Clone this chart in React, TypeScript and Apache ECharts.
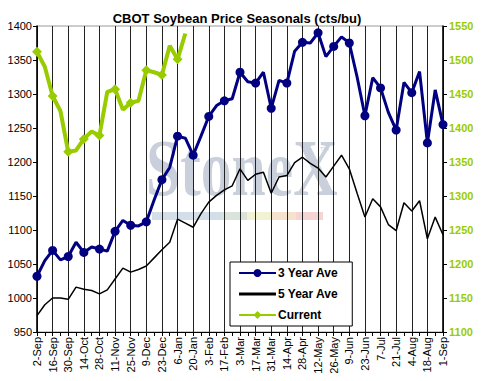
import React, { useEffect, useRef } from "react";
import * as echarts from "echarts";

const categories = [
  "2-Sep", "9-Sep", "16-Sep", "23-Sep", "30-Sep", "7-Oct", "14-Oct", "21-Oct", "28-Oct",
  "4-Nov", "11-Nov", "18-Nov", "25-Nov", "2-Dec", "9-Dec", "16-Dec", "23-Dec", "30-Dec",
  "6-Jan", "13-Jan", "20-Jan", "27-Jan", "3-Feb", "10-Feb", "17-Feb", "24-Feb",
  "3-Mar", "10-Mar", "17-Mar", "24-Mar", "31-Mar", "7-Apr", "14-Apr", "21-Apr", "28-Apr",
  "5-May", "12-May", "19-May", "26-May", "2-Jun", "9-Jun", "16-Jun", "23-Jun", "30-Jun",
  "7-Jul", "14-Jul", "21-Jul", "28-Jul", "4-Aug", "11-Aug", "18-Aug", "25-Aug", "1-Sep",
];

const threeYearAve = [
  1032, 1055, 1070, 1056, 1061, 1082, 1067, 1075, 1072, 1069, 1098, 1114, 1107, 1106,
  1112, 1144, 1174, 1192, 1238, 1235, 1210, 1238, 1267, 1283, 1290, 1293, 1332, 1318,
  1316, 1332, 1279, 1320, 1316, 1363, 1376, 1375, 1390, 1355, 1370, 1384, 1375, 1325,
  1268, 1324, 1309, 1273, 1247, 1317, 1302, 1333, 1228, 1306, 1255,
];

const fiveYearAve = [
  974, 990, 1000, 1000, 998, 1016, 1013, 1011, 1006, 1012, 1028, 1044, 1038, 1042,
  1047, 1059, 1071, 1082, 1116, 1110, 1104, 1124, 1141, 1151, 1159, 1165, 1190, 1173,
  1182, 1185, 1154, 1178, 1180, 1199, 1207, 1198, 1191, 1178, 1194, 1210, 1190, 1154,
  1119, 1146, 1134, 1108, 1099, 1140, 1128, 1143, 1087, 1119, 1093,
];

const current = [
  1512, 1490, 1447, 1425, 1365, 1367, 1384, 1395, 1389, 1453, 1457, 1427, 1437, 1440,
  1485, 1482, 1478, 1521, 1501, 1539,
];

const FONT = "'Liberation Sans', Arial, sans-serif";

export default function App() {
  const ref = useRef<HTMLDivElement>(null);

  useEffect(() => {
    if (!ref.current) return;
    const chart = echarts.init(ref.current, undefined, { renderer: "svg" });
    const wmBars = [
      { x: 152, w: 70, c: "#c9d6e2" },
      { x: 222, w: 25, c: "#cfdccf" },
      { x: 247, w: 25, c: "#eeefc8" },
      { x: 272, w: 24, c: "#f4dcc0" },
      { x: 296, w: 27, c: "#f2c9c9" },
    ];
    chart.setOption({
      animation: false,
      backgroundColor: "#ffffff",
      title: {
        text: "CBOT Soybean Price Seasonals (cts/bu)",
        left: 232,
        textAlign: "center",
        top: 7,
        textStyle: { fontFamily: FONT, fontSize: 13, fontWeight: "bold", color: "#000" },
      },
      graphic: [
        {
          type: "text",
          z: 0,
          x: 146,
          y: 168,
          scaleX: 0.77,
          style: {
            text: "StoneX",
            font: "bold 80px 'Liberation Serif', 'Times New Roman', serif",
            fill: "#c9d0db",
            textVerticalAlign: "middle",
          },
        },
        {
          type: "text",
          z: 0,
          x: 320,
          y: 146,
          style: { text: "TM", font: "6px sans-serif", fill: "#c6cdd9" },
        },
        ...wmBars.map((b) => ({
          type: "rect",
          z: 0,
          shape: { x: b.x, y: 212, width: b.w, height: 8 },
          style: { fill: b.c, opacity: 0.8 },
        })),
      ],
      legend: {
        orient: "vertical",
        left: 230,
        top: 262,
        backgroundColor: "#ffffff",
        borderColor: "#000",
        borderWidth: 1,
        padding: [5, 14, 5, 8],
        itemWidth: 37,
        itemHeight: 10,
        itemGap: 9,
        textStyle: { fontFamily: FONT, fontSize: 12, fontWeight: "bold", color: "#000", padding: [0, 0, 0, -3] },
        data: [
          "3 Year Ave",
          { name: "5 Year Ave", icon: "path://M0,0 L40,0 L40,3 L0,3 Z" },
          "Current",
        ],
      },
      grid: {
        left: 37,
        right: 38,
        top: 26,
        bottom: 49,
        show: true,
        borderColor: "#999",
        borderWidth: 1,
        containLabel: false,
      },
      xAxis: {
        type: "category",
        data: categories,
        boundaryGap: false,
        axisLine: { show: true, lineStyle: { color: "#000", width: 1 } },
        axisTick: { show: true, interval: 0, length: 4, lineStyle: { color: "#000" } },
        axisLabel: {
          interval: 1,
          rotate: 90,
          fontFamily: FONT,
          fontSize: 11,
          color: "#000",
          margin: 5,
        },
        splitLine: { show: true, interval: 1, lineStyle: { color: "#222", width: 1 } },
      },
      yAxis: [
        {
          type: "value",
          min: 950,
          max: 1400,
          interval: 50,
          position: "left",
          axisLine: { show: true, lineStyle: { color: "#000", width: 1.5 } },
          axisTick: { show: true, length: 4, lineStyle: { color: "#000" } },
          axisLabel: {
            fontFamily: FONT,
            fontSize: 11,
            color: "#000",
            margin: 5,
            formatter: (v: number) => String(v),
          },
          splitLine: { show: false },
        },
        {
          type: "value",
          min: 1100,
          max: 1550,
          interval: 50,
          position: "right",
          axisLine: { show: true, lineStyle: { color: "#000", width: 1.5 } },
          axisTick: { show: true, length: 4, lineStyle: { color: "#000" } },
          axisLabel: {
            fontFamily: FONT,
            fontSize: 11,
            fontWeight: "bold",
            color: "#99cc00",
            margin: 6,
            formatter: (v: number) => String(v),
          },
          splitLine: { show: false },
        },
      ],
      series: [
        {
          name: "3 Year Ave",
          type: "line",
          yAxisIndex: 0,
          data: threeYearAve,
          symbol: "circle",
          symbolSize: 9,
          z: 4,
          lineStyle: { color: "#000080", width: 3 },
          itemStyle: { color: "#000080" },
        },
        {
          name: "5 Year Ave",
          type: "line",
          yAxisIndex: 0,
          data: fiveYearAve,
          symbol: "none",
          showSymbol: false,
          z: 3,
          lineStyle: { color: "#000", width: 1.5 },
          itemStyle: { color: "#000" },
        },
        {
          name: "Current",
          type: "line",
          yAxisIndex: 1,
          data: current,
          symbol: "diamond",
          symbolSize: 10,
          z: 5,
          lineStyle: { color: "#99cc00", width: 4 },
          itemStyle: { color: "#99cc00" },
        },
      ],
    });
    return () => chart.dispose();
  }, []);

  return <div ref={ref} style={{ width: 481, height: 381, margin: -8 }} />;
}
